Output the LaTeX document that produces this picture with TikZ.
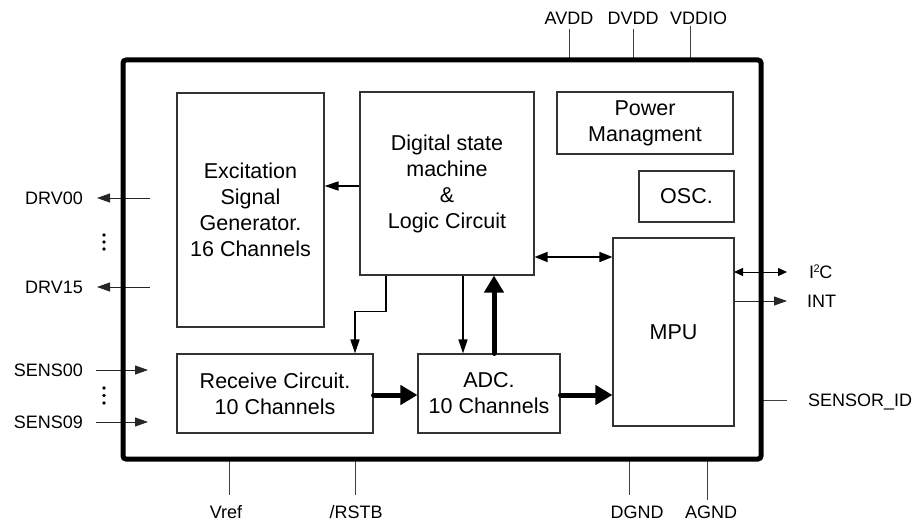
\documentclass[tikz,border=0pt]{standalone}
\usepackage{fontspec}
\setmainfont{Liberation Sans}
\usetikzlibrary{arrows.meta,calc}
\begin{document}
\begin{tikzpicture}[x=1pt,y=-1pt,
  blk/.style={draw=black!80,line width=1.1pt,align=center,font=\fontsize{21.5}{26}\selectfont,inner sep=0pt},
  pinlbl/.style={inner sep=0pt,font=\fontsize{18}{21}\selectfont},
  pinline/.style={draw=black!75,line width=1pt},
  arr/.style={line width=1.6pt,-{Triangle[length=14pt,width=9pt]}},
  darr/.style={line width=1.6pt,{Triangle[length=13pt,width=10pt]}-{Triangle[length=13pt,width=10pt]}},
  thinarr/.style={line width=1pt,draw=black!85,-{Triangle[length=13pt,width=9pt]}},
  thindarr/.style={line width=1pt,{Triangle[length=9pt,width=8pt]}-{Triangle[length=9pt,width=8pt]}},
  fatarr/.style={line width=5pt,line cap=round,-{Triangle[length=17pt,width=19pt]}},
]
\useasboundingbox (0,0) rectangle (916,524);

% blocks
\node[blk,minimum width=147pt,minimum height=234pt] (exc) at (250.5,210) {Excitation\\Signal\\Generator.\\16 Channels};
\node[blk,minimum width=174pt,minimum height=183pt] (dig) at (447,183.5) {Digital state\\machine\\\&\\Logic Circuit};
\node[blk,minimum width=176pt,minimum height=62pt] (pow) at (645,123) {Power\\Managment};
\node[blk,minimum width=95pt,minimum height=51pt] (osc) at (686.5,196.5) {OSC.};
\node[blk,minimum width=121pt,minimum height=188pt] (mpu) at (673.5,332) {MPU};
\node[blk,minimum width=196pt,minimum height=79pt] (rec) at (275,393.5) {Receive Circuit.\\10 Channels};
\node[blk,minimum width=142pt,minimum height=79pt] (adc) at (489,393.5) {ADC.\\10 Channels};

% pin labels
\node[pinlbl,anchor=base east] (drv00) at (83,204.5) {DRV00};
\node[pinlbl,anchor=base east] (drv15) at (83,293.5) {DRV15};
\node[pinlbl,anchor=base east] (sens00) at (83,376.5) {SENS00};
\node[pinlbl,anchor=base east] (sens09) at (83,428.5) {SENS09};
\node[pinlbl,anchor=base] (avdd) at (569,24.5) {AVDD};
\node[pinlbl,anchor=base] (dvdd) at (633,24.5) {DVDD};
\node[pinlbl,anchor=base] (vddio) at (698.5,24.5) {VDDIO};
\node[pinlbl,anchor=base west] (i2c) at (809,278.5) {I\kern-0.5pt\raisebox{6pt}{\fontsize{11}{12}\selectfont 2}\kern-0.5pt C};
\node[pinlbl,anchor=base west] (int) at (807,307.5) {INT};
\node[pinlbl,anchor=base west] (sid) at (808,406.5) {SENSOR\_ID};
\node[pinlbl,anchor=base] (vref) at (226,518.5) {Vref};
\node[pinlbl,anchor=base] (rstb) at (356,518.5) {/RSTB};
\node[pinlbl,anchor=base] (dgnd) at (637,518.5) {DGND};
\node[pinlbl,anchor=base] (agnd) at (711,518.5) {AGND};

% left pins
\draw[thinarr] ($(drv00.base east)+(67,-6.5)$) -- ($(drv00.base east)+(14,-6.5)$);
\draw[thinarr] ($(drv15.base east)+(67,-6.5)$) -- ($(drv15.base east)+(14,-6.5)$);
\draw[thinarr] ($(sens00.base east)+(13,-6.5)$) -- ($(sens00.base east)+(65,-6.5)$);
\draw[thinarr] ($(sens09.base east)+(13,-6.5)$) -- ($(sens09.base east)+(65,-6.5)$);
\foreach \yy in {235,242,249,388,395.5,403} \fill (104,\yy) circle (1.8);

% top pins
\draw[pinline] ($(avdd.base)+(0,4.5)$) -- ($(avdd.base)+(0,35.5)$);
\draw[pinline] ($(dvdd.base)+(0,4.5)$) -- ($(dvdd.base)+(0,35.5)$);
\draw[pinline] ($(vddio.base)+(-8,1.5)$) -- ($(vddio.base)+(-8,35.5)$);

% bottom pins
\draw[pinline] ($(vref.base)+(3,-58.5)$) -- ($(vref.base)+(3,-23.5)$);
\draw[pinline] ($(rstb.base)+(-1,-58.5)$) -- ($(rstb.base)+(-1,-23.5)$);
\draw[pinline] ($(dgnd.base)+(-8,-58.5)$) -- ($(dgnd.base)+(-8,-23.5)$);
\draw[pinline] ($(agnd.base)+(-4,-58.5)$) -- ($(agnd.base)+(-4,-18.5)$);

% right pins
\draw[thindarr] ($(i2c.base west)+(-75,-6.5)$) -- ($(i2c.base west)+(-22,-6.5)$);
\draw[thinarr] ($(int.base west)+(-73,-6.5)$) -- ($(int.base west)+(-20,-6.5)$);
\draw[pinline] ($(sid.base west)+(-46,-6.5)$) -- ($(sid.base west)+(-21,-6.5)$);

% chip outline
\node[draw,line width=5pt,rounded corners=3pt,minimum width=638pt,minimum height=399pt,inner sep=0pt,outer sep=0pt] (chip) at (442,259.5) {};

% internal connections
\draw[arr] ($(dig.west)+(0,2.5)$) -- ($(exc.east)+(0,-24)$);
\draw[darr] ($(dig.east)+(0,73.5)$) -- ($(mpu.west)+(0,-75)$);
\draw[arr] ($(dig.south)+(-61,0)$) -- ++(0,36) -| ($(rec.north)+(80,0)$);
\draw[arr] ($(dig.south)+(16,0)$) -- ($(adc.north)+(-26,0)$);
\draw[fatarr] ($(adc.north)+(5,0)$) -- ($(dig.south)+(47,0)$);
\draw[fatarr] ($(rec.east)+(0,1.5)$) -- ($(adc.west)+(0,1.5)$);
\draw[fatarr] ($(adc.east)+(0,1.5)$) -- ($(mpu.west)+(0,63)$);
\end{tikzpicture}
\end{document}
